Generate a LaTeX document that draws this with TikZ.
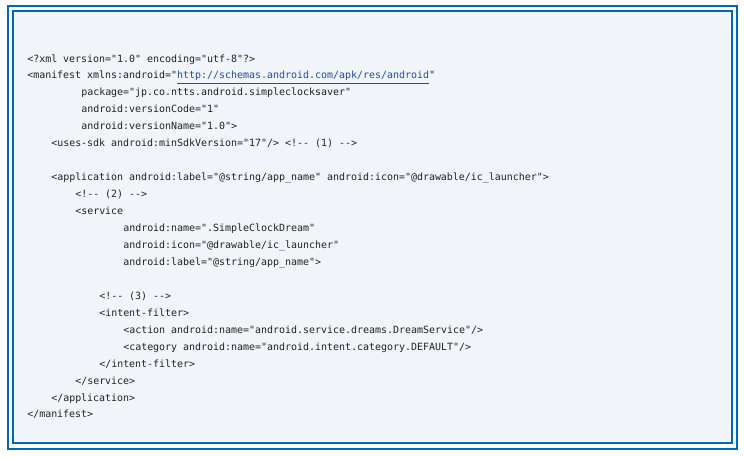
\documentclass[tikz,border=0pt]{standalone}
\usepackage{fontspec}
\setmonofont{DejaVu Sans Mono}

\definecolor{frameblue}{HTML}{0068B6}
\definecolor{codebg}{HTML}{F1F4F9}
\definecolor{codetext}{HTML}{222222}
\definecolor{linkblue}{HTML}{1F4F9E}

\tikzset{
  codeline/.style={anchor=base west,inner sep=0pt,text=codetext,
    font=\ttfamily\fontsize{7.47}{9}\selectfont},
  frameline/.style={draw=frameblue,line width=1.5pt}
}

\begin{document}
\begin{tikzpicture}[x=0.75pt,y=-0.75pt]
    \useasboundingbox (0,0) rectangle (744,457);
    \draw[frameline] (8,6) rectangle (737.3,448.7);
    \draw[frameline,fill=codebg] (13,11) rectangle (732.3,443.3);

    \node[codeline] (xmldecl) at (27,62) {<?xml version="1.0" encoding="utf-8"?>};
    \node[codeline] (manifest) at (27,78.95) {<manifest xmlns:android="\textcolor{linkblue}{\underline{http://schemas.android.com/apk/res/android}}"};
    \node[codeline] (pkg) at (81,95.9) {package="jp.co.ntts.android.simpleclocksaver"};
    \node[codeline] (vcode) at (81,112.85) {android:versionCode="1"};
    \node[codeline] (vname) at (81,129.8) {android:versionName="1.0">};
    \node[codeline] (usessdk) at (51,146.75) {<uses-sdk android:minSdkVersion="17"/> <!-- (1) -->};

    \node[codeline] (app) at (51,180.65) {<application android:label="@string/app\_name" android:icon="@drawable/ic\_launcher">};
    \node[codeline] (cmt2) at (75,197.6) {<!-- (2) -->};
    \node[codeline] (service) at (75,214.55) {<service};
    \node[codeline] (svcname) at (123,231.5) {android:name=".SimpleClockDream"};
    \node[codeline] (svcicon) at (123,248.45) {android:icon="@drawable/ic\_launcher"};
    \node[codeline] (svclabel) at (123,265.4) {android:label="@string/app\_name">};

    \node[codeline] (cmt3) at (99,299.3) {<!-- (3) -->};
    \node[codeline] (filter) at (99,316.25) {<intent-filter>};
    \node[codeline] (action) at (123,333.2) {<action android:name="android.service.dreams.DreamService"/>};
    \node[codeline] (category) at (123,350.15) {<category android:name="android.intent.category.DEFAULT"/>};
    \node[codeline] (filterend) at (99,367.1) {</intent-filter>};
    \node[codeline] (serviceend) at (75,384.05) {</service>};
    \node[codeline] (append) at (51,401) {</application>};
    \node[codeline] (manifestend) at (27,417.95) {</manifest>};

\end{tikzpicture}
\end{document}
